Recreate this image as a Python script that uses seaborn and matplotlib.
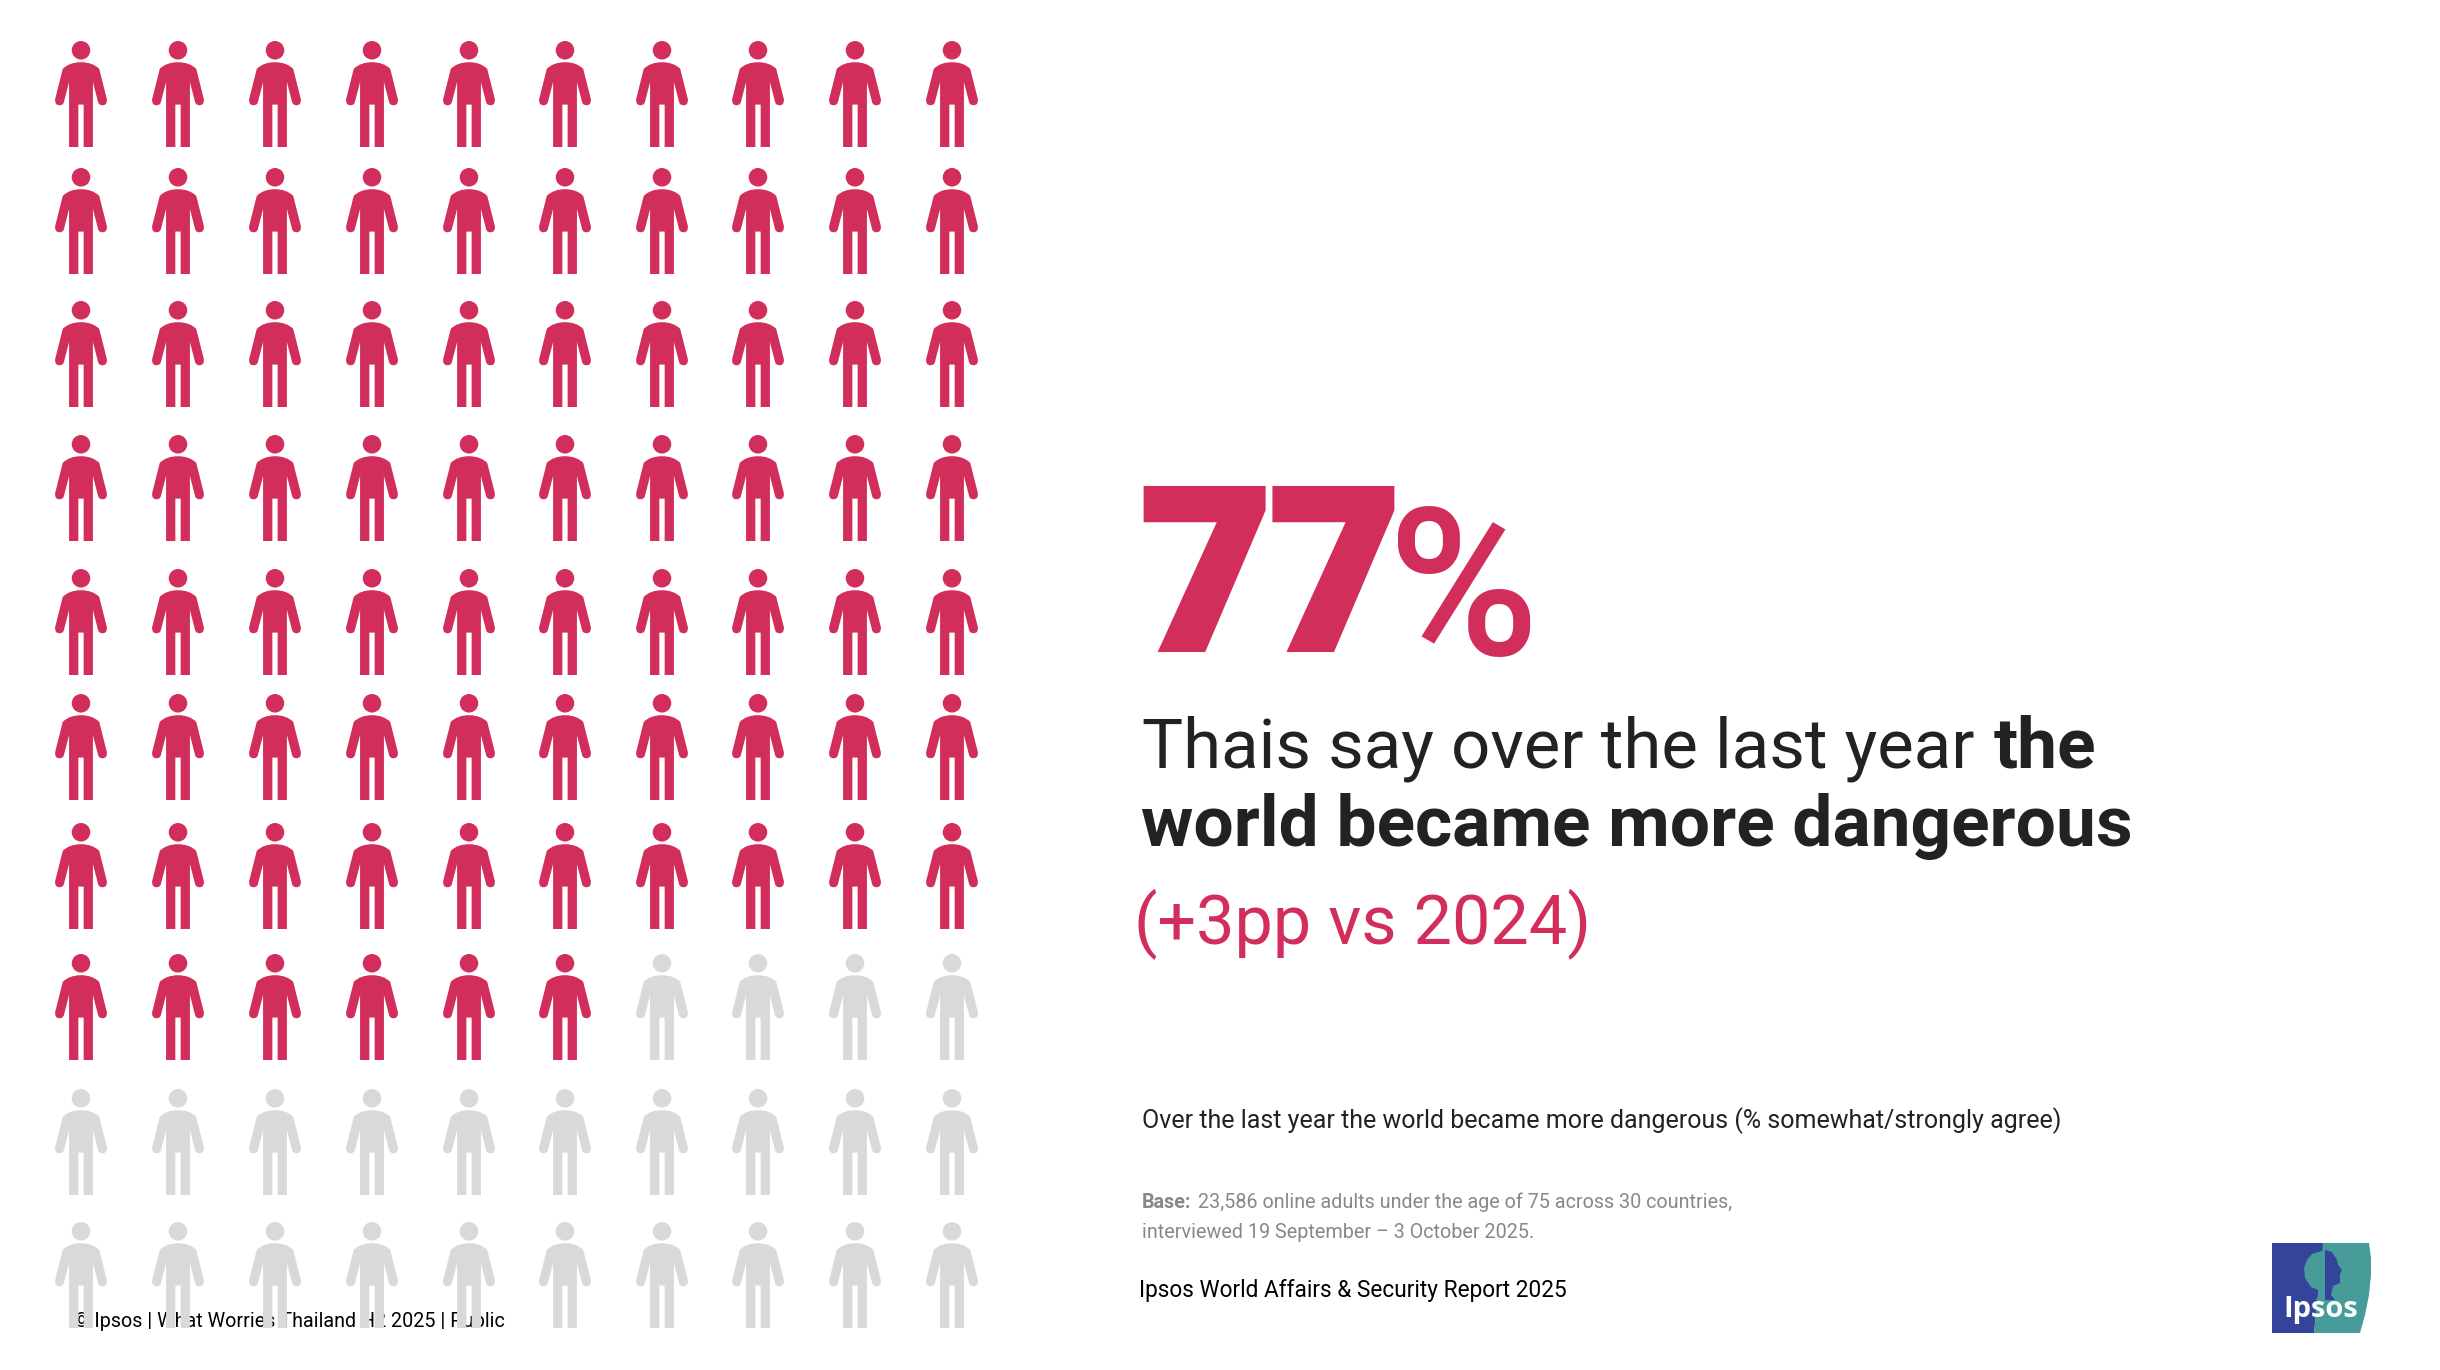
# Pictogram slide: share of Thais who say the world became more dangerous
import matplotlib
matplotlib.use('Agg')
import matplotlib.pyplot as plt
import matplotlib.patheffects as pe
from matplotlib.path import Path
from matplotlib.patches import Polygon
import numpy as np
import pandas as pd
import seaborn as sns

# Data
RED_ICONS = 76  # the slide colours 76 of the 100 figures, even though the label says 77%
GRID_COLS = 10
GRID_ROWS = 10
COL_CENTERS = [81, 178, 275, 372, 469, 565, 662, 758, 855, 952]
ROW_CENTERS = [94, 221, 354, 488, 622, 747, 876, 1007, 1142, 1275]

BIG_NUMBER = '77'
PERCENT_SIGN = '%'
HEADLINE_LIGHT = 'Thais say over the last year'
HEADLINE_BOLD_1 = 'the'
HEADLINE_BOLD_2 = 'world became more dangerous'
CHANGE_LABEL = '(+3pp vs 2024)'
QUESTION = 'Over the last year the world became more dangerous (% somewhat/strongly agree)'
BASE_BOLD = 'Base:'
BASE_1 = '23,586 online adults under the age of 75 across 30 countries,'
BASE_2 = 'interviewed 19 September \u2013 3 October 2025.'
SOURCE = 'Ipsos World Affairs & Security Report 2025'
FOOTER = '\u00a9 Ipsos | What Worries Thailand H2 2025 | Public'

RED = '#D22E5C'
GREY = '#D9D9D9'
DARK = '#222222'
BLUE = '#35449B'
TEAL = '#479C9A'

sns.set_theme(style='white')
plt.rcParams['font.family'] = ['Roboto', 'DejaVu Sans']


def person_marker():
    """Person icon as a marker path, y up, centred on the figure."""
    body = [
        (0, 96), (35, 96), (55, 76), (78, -15), (80, -34), (65, -34), (53, -34), (51, -22),
        (36, 36), (36, -160), (8, -160), (8, -32), (-8, -32), (-8, -160), (-36, -160), (-36, 36),
        (-51, -22), (-53, -34), (-65, -34), (-80, -34), (-78, -15), (-55, 76), (-35, 96), (0, 96),
    ]
    codes = [
        Path.MOVETO, Path.CURVE3, Path.CURVE3, Path.LINETO, Path.CURVE3, Path.CURVE3, Path.CURVE3, Path.CURVE3,
        Path.LINETO, Path.LINETO, Path.LINETO, Path.LINETO, Path.LINETO, Path.LINETO, Path.LINETO, Path.LINETO,
        Path.LINETO, Path.CURVE3, Path.CURVE3, Path.CURVE3, Path.CURVE3, Path.LINETO, Path.CURVE3, Path.CURVE3,
    ]
    head = Path.circle((0, 132), 28)
    return Path.make_compound_path(Path(body, codes), head)


def build_grid():
    xs, ys = np.meshgrid(COL_CENTERS, ROW_CENTERS)
    df = pd.DataFrame({'x': xs.ravel(), 'y': ys.ravel()})
    df['status'] = ['agree' if i < RED_ICONS else 'other' for i in range(GRID_COLS * GRID_ROWS)]
    return df


def draw_logo(ax):
    ax.add_patch(Polygon([(2272, 1243), (2324, 1243), (2314, 1333), (2272, 1333)], fc=BLUE, ec='none', zorder=3))
    ax.add_patch(Polygon([(2323, 1243), (2369, 1243), (2371, 1258), (2371, 1275), (2369, 1295), (2365, 1315),
                          (2360, 1333), (2314, 1333)], fc=TEAL, ec='none', zorder=3))
    # tree half and face half of the emblem
    ax.add_patch(Polygon([(2325, 1250), (2312, 1254), (2307, 1260), (2304, 1268), (2305, 1278), (2311, 1287),
                          (2318, 1290), (2320, 1297), (2315, 1300), (2325, 1300)], fc=TEAL, ec='none', zorder=4))
    ax.add_patch(Polygon([(2325, 1250), (2332, 1252), (2337, 1260), (2338, 1265), (2342, 1270), (2340, 1274),
                          (2340, 1283), (2333, 1286), (2331, 1295), (2335, 1300), (2325, 1300)],
                         fc=BLUE, ec='none', zorder=4))
    ax.text(2283, 1317, 'Ipsos', color='white', fontsize=10.5, fontweight='bold',
            family=['Open Sans', 'DejaVu Sans'], va='baseline', zorder=5)


def main():
    fig = plt.figure(figsize=(12.2, 6.85), dpi=200, facecolor='white')
    ax = fig.add_axes([0, 0, 1, 1])

    df = build_grid()
    sns.scatterplot(
        data=df, x='x', y='y', hue='status', palette={'agree': RED, 'other': GREY},
        marker=person_marker(), s=1456, linewidth=0, edgecolor='none', legend=False, zorder=2, ax=ax
    )
    ax.set_xlim(0, 2440)
    ax.set_ylim(1370, 0)
    ax.axis('off')

    # big number and headline
    big = ax.text(1142, 648, BIG_NUMBER, color=RED, fontsize=80, fontweight='black', va='baseline')
    big.set_path_effects([pe.withStroke(linewidth=2.9, foreground=RED, joinstyle='miter')])
    ax.text(1388, 655, PERCENT_SIGN, color=RED, fontsize=74, fontweight='medium', va='baseline')
    ax.text(1142, 767, HEADLINE_LIGHT, color=DARK, fontsize=24.85, fontweight='normal', va='baseline')
    ax.text(1994, 767, HEADLINE_BOLD_1, color=DARK, fontsize=25.7, fontweight='bold', va='baseline')
    ax.text(1141, 846, HEADLINE_BOLD_2, color=DARK, fontsize=25.65, fontweight='bold', va='baseline')
    ax.text(1134, 943, CHANGE_LABEL, color=RED, fontsize=24.6, fontweight='normal', va='baseline')

    # notes
    ax.text(1142, 1128, QUESTION, color=DARK, fontsize=9.0, va='baseline')
    ax.text(1142, 1208, BASE_BOLD, color='#888888', fontsize=7.1, fontweight='bold', va='baseline')
    ax.text(1198, 1208, BASE_1, color='#888888', fontsize=7.1, va='baseline')
    ax.text(1142, 1238, BASE_2, color='#888888', fontsize=7.1, va='baseline')
    ax.text(1139, 1297, SOURCE, color='black', fontsize=8.13, va='baseline')
    ax.text(74, 1327, FOOTER, color='black', fontsize=7.1, va='baseline', zorder=1)

    draw_logo(ax)
    fig.savefig('out.png', dpi=200)
    plt.close(fig)


if __name__ == '__main__':
    main()
